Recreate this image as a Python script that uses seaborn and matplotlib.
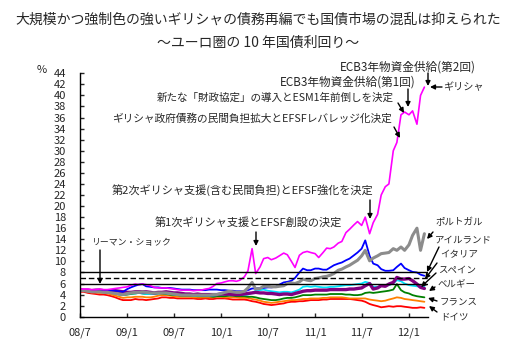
import matplotlib
matplotlib.use("Agg")
import matplotlib.pyplot as plt
import pandas as pd
import seaborn as sns

# semi-monthly readings, 2008/7/1 .. 2012/3/1 (89 points)
dates = pd.date_range("2008-07-01", "2012-03-01", freq="SMS")

greece = [5.0, 5.0, 5.0, 4.9, 4.9, 5.0, 4.9, 4.9, 5.0, 5.1, 5.2, 5.3,
          5.4, 5.7, 5.9, 5.8, 5.9, 5.8, 5.6, 5.3, 5.2, 5.2, 5.2, 5.1, 5.0, 4.9, 4.8, 4.8, 4.8, 4.7, 4.8, 4.8, 5.0, 5.1, 5.5, 6.0,
          6.1, 6.3, 6.5, 6.5, 6.4, 6.6, 7.2, 8.3, 12.3, 7.8, 9.0, 10.5, 10.7, 10.3, 10.6, 11.0, 11.5, 11.2, 10.0, 8.9, 11.1, 11.6, 11.8, 11.6,
          11.4, 10.7, 11.6, 12.4, 12.3, 12.6, 13.3, 13.6, 15.2, 15.8, 16.6, 17.2, 16.5, 18.0, 15.0, 17.0, 18.5, 22.0, 23.5, 24.0, 30.0, 31.5, 36.5, 37.0,
          36.5, 37.2, 34.8, 40.0, 41.5]
portugal = [4.8, 4.7, 4.6, 4.5, 4.5, 4.5, 4.4, 4.4, 4.3, 4.2, 4.1, 4.0,
            4.2, 4.3, 4.4, 4.4, 4.5, 4.4, 4.3, 4.3, 4.3, 4.3, 4.3, 4.2, 4.1, 4.0, 3.9, 3.9, 3.9, 3.9, 3.9, 3.9, 3.9, 3.9, 4.0, 4.0,
            4.2, 4.4, 4.6, 4.5, 4.4, 4.4, 4.6, 5.2, 6.2, 5.0, 5.1, 5.5, 5.5, 5.4, 5.4, 5.5, 5.6, 6.0, 6.1, 6.0, 6.3, 6.8, 6.6, 6.5,
            6.9, 7.0, 7.2, 7.3, 7.5, 7.8, 8.4, 8.6, 9.0, 9.3, 9.8, 10.2, 11.0, 12.0, 10.1, 10.6, 11.0, 11.4, 11.5, 11.6, 12.3, 12.0, 12.6, 12.0,
            13.0, 14.7, 16.0, 12.0, 15.0]
ireland = [4.8, 4.7, 4.6, 4.5, 4.6, 4.6, 4.6, 4.6, 4.7, 4.7, 4.6, 4.5,
           5.0, 5.3, 5.6, 5.8, 5.9, 5.5, 5.4, 5.3, 5.3, 5.2, 5.2, 5.2, 5.1, 5.0, 4.9, 4.9, 4.9, 4.8, 4.8, 4.8, 4.8, 4.9, 4.9, 4.9,
           4.8, 4.8, 4.7, 4.7, 4.6, 4.6, 4.6, 4.8, 5.1, 5.1, 5.2, 5.2, 5.3, 5.3, 5.4, 5.8, 6.2, 6.3, 6.5, 7.0, 8.0, 8.7, 8.4, 8.4,
           8.7, 8.7, 8.5, 8.5, 8.9, 9.3, 9.6, 9.8, 10.2, 10.5, 11.1, 11.6, 12.3, 13.8, 11.0, 9.6, 9.3, 8.6, 8.3, 8.3, 8.4, 9.0, 9.6, 8.8,
           8.4, 8.1, 8.0, 7.6, 7.4]
italy = [4.9, 4.8, 4.8, 4.7, 4.8, 4.8, 4.7, 4.7, 4.7, 4.7, 4.6, 4.5,
         4.4, 4.4, 4.5, 4.5, 4.5, 4.5, 4.4, 4.3, 4.4, 4.4, 4.5, 4.4, 4.3, 4.3, 4.2, 4.1, 4.1, 4.0, 4.1, 4.0, 4.0, 4.0, 4.0, 4.0,
         4.1, 4.1, 4.1, 4.0, 4.0, 4.0, 4.1, 4.2, 4.3, 4.4, 4.3, 4.3, 4.2, 4.2, 4.1, 4.0, 4.1, 4.1, 4.0, 4.2, 4.4, 4.6, 4.7, 4.7,
         4.8, 4.8, 4.8, 4.8, 4.9, 4.9, 4.9, 4.9, 4.9, 5.0, 5.0, 5.1, 5.2, 5.6, 6.0, 5.0, 5.2, 5.6, 5.5, 5.9, 6.2, 7.1, 6.8, 6.8,
         6.9, 6.5, 5.9, 5.3, 5.1]
spain = [4.8, 4.8, 4.6, 4.5, 4.6, 4.5, 4.4, 4.4, 4.3, 4.2, 4.0, 3.9,
         4.1, 4.2, 4.2, 4.3, 4.2, 4.1, 4.1, 4.1, 4.2, 4.3, 4.2, 4.1, 4.0, 4.0, 3.9, 3.9, 3.9, 3.8, 3.8, 3.8, 3.8, 3.8, 3.8, 3.9,
         4.0, 4.1, 4.0, 4.0, 3.9, 3.9, 3.9, 4.0, 4.3, 4.7, 4.8, 4.9, 4.7, 4.6, 4.5, 4.4, 4.5, 4.5, 4.4, 4.6, 4.9, 5.4, 5.5, 5.4,
         5.5, 5.4, 5.3, 5.3, 5.4, 5.4, 5.5, 5.6, 5.7, 5.7, 5.8, 5.9, 6.0, 6.3, 6.1, 5.4, 5.4, 5.6, 5.6, 5.7, 6.0, 6.6, 6.4, 6.0,
         5.7, 5.6, 5.5, 5.4, 5.5]
belgium = [4.8, 4.8, 4.6, 4.5, 4.6, 4.5, 4.5, 4.4, 4.3, 4.2, 4.0, 3.9,
           4.0, 4.1, 4.2, 4.3, 4.2, 4.1, 4.1, 4.1, 4.2, 4.2, 4.1, 4.0, 3.9, 3.9, 3.8, 3.8, 3.8, 3.8, 3.7, 3.7, 3.7, 3.7, 3.6, 3.7,
           3.7, 3.7, 3.8, 3.8, 3.7, 3.7, 3.7, 3.6, 3.6, 3.5, 3.3, 3.2, 3.1, 3.0, 3.0, 3.1, 3.3, 3.4, 3.4, 3.5, 3.7, 3.9, 3.9, 3.9,
           4.0, 4.0, 4.0, 4.0, 4.1, 4.1, 4.1, 4.1, 4.0, 4.0, 3.9, 3.9, 4.0, 4.3, 4.4, 4.3, 4.4, 4.5, 4.6, 4.7, 4.9, 5.9, 4.8, 4.4,
           4.2, 3.9, 3.7, 3.6, 3.5]
france = [4.7, 4.7, 4.5, 4.4, 4.4, 4.3, 4.3, 4.2, 4.0, 3.8, 3.6, 3.4,
          3.5, 3.5, 3.6, 3.6, 3.6, 3.5, 3.5, 3.6, 3.8, 3.9, 3.9, 3.8, 3.7, 3.6, 3.6, 3.6, 3.6, 3.5, 3.5, 3.5, 3.5, 3.5, 3.5, 3.6,
          3.6, 3.5, 3.5, 3.5, 3.5, 3.4, 3.4, 3.4, 3.2, 3.1, 2.9, 2.7, 2.6, 2.5, 2.6, 2.7, 2.8, 2.9, 3.0, 3.0, 3.1, 3.2, 3.2, 3.3,
          3.3, 3.3, 3.4, 3.4, 3.5, 3.5, 3.5, 3.5, 3.4, 3.3, 3.3, 3.3, 3.3, 3.3, 3.1, 3.0, 2.9, 2.8, 2.9, 3.1, 3.3, 3.5, 3.4, 3.2,
          3.1, 3.0, 2.9, 2.8, 2.7]
germany = [4.5, 4.5, 4.3, 4.2, 4.1, 4.0, 4.0, 3.9, 3.7, 3.5, 3.2, 3.0,
           3.0, 3.0, 3.2, 3.1, 3.1, 3.0, 3.1, 3.2, 3.3, 3.5, 3.5, 3.4, 3.4, 3.3, 3.3, 3.3, 3.3, 3.3, 3.2, 3.2, 3.3, 3.2, 3.2, 3.3,
           3.3, 3.3, 3.2, 3.1, 3.1, 3.1, 3.1, 3.0, 2.8, 2.7, 2.5, 2.3, 2.2, 2.1, 2.2, 2.3, 2.4, 2.6, 2.7, 2.7, 2.8, 2.8, 2.9, 3.0,
           3.0, 3.0, 3.1, 3.1, 3.2, 3.2, 3.2, 3.2, 3.2, 3.2, 3.1, 3.0, 2.9, 2.7, 2.3, 2.1, 1.9, 1.7, 1.8, 1.9, 1.8, 1.9, 1.9, 1.8,
           1.7, 1.6, 1.6, 1.7, 1.6]

tick_dates = ["2008-07-01", "2009-01-01", "2009-07-01", "2010-01-01",
              "2010-07-01", "2011-01-01", "2011-07-01", "2012-01-01"]
tick_labels = ["08/7", "09/1", "09/7", "10/1", "10/7", "11/1", "11/7", "12/1"]

df = pd.DataFrame({"date": dates, "ドイツ": germany, "フランス": france, "ベルギー": belgium,
                   "スペイン": spain, "イタリア": italy, "アイルランド": ireland,
                   "ポルトガル": portugal, "ギリシャ": greece})

sns.set_style("ticks")
plt.rcParams["font.family"] = ["Noto Sans CJK JP", "DejaVu Sans"]

W, H = 516, 359
fig = plt.figure(figsize=(W / 100, H / 100), dpi=100)
ax = fig.add_axes([80 / W, 1 - 316.7 / H, 348 / W, 243.4 / H])

styles = [("ドイツ", "#ff0000", 1.3), ("フランス", "#ff8000", 1.3), ("ベルギー", "#008000", 1.3),
          ("スペイン", "#00e5ff", 1.3), ("イタリア", "#800080", 2.4), ("アイルランド", "#0000ff", 1.3),
          ("ポルトガル", "#8c8c8c", 2.2), ("ギリシャ", "#ff00ff", 1.2)]
for name, color, lw in styles:
    sns.lineplot(data=df, x="date", y=name, color=color, lw=lw, ax=ax)

ax.axhline(8, color="black", lw=1, zorder=5)
ax.axhline(7, color="black", lw=1, ls=(0, (4, 2)), zorder=5)
ax.axhline(6, color="black", lw=1, zorder=5)

ax.set_xlim(pd.Timestamp("2008-07-01"), pd.Timestamp("2012-03-15"))
ax.set_ylim(0, 44)
ax.set_yticks(range(0, 45, 2))
ax.set_xticks(pd.to_datetime(tick_dates))
ax.set_xticklabels(tick_labels)
ax.set_xlabel("")
ax.set_ylabel("")
ax.tick_params(axis="y", direction="in", length=3, pad=10, labelsize=8, width=1)
ax.tick_params(axis="x", direction="in", length=3, pad=8, labelsize=8, width=1)
for side in ["top", "right"]:
    ax.spines[side].set_visible(False)
for side in ["left", "bottom"]:
    ax.spines[side].set_color("black")
    ax.spines[side].set_linewidth(1)


def fp(x, y):
    return (x / W, 1 - y / H)


fig.text(*fp(258, 20), "大規模かつ強制色の強いギリシャの債務再編でも国債市場の混乱は抑えられた",
         ha="center", va="center", fontsize=10)
fig.text(*fp(258, 43), "～ユーロ圏の 10 年国債利回り～", ha="center", va="center", fontsize=10)
fig.text(*fp(42, 70), "%", ha="center", va="center", fontsize=8)

notes = [
    ("リーマン・ショック", 91, 243, 6.4, (100, 250), (100, 284)),
    ("第1次ギリシャ支援とEFSF創設の決定", 155, 223, 8.0, (256, 232), (256, 246)),
    ("第2次ギリシャ支援(含む民間負担)とEFSF強化を決定", 112, 190, 8.0, (370, 200), (370, 219)),
    ("ギリシャ政府債務の民間負担拡大とEFSFレバレッジ化決定", 112, 118, 7.7, (394, 127), (400, 138)),
    ("新たな「財政協定」の導入とESM1年前倒しを決定", 157, 98, 7.6, (398, 103), (404, 113)),
    ("ECB3年物資金供給(第1回)", 280, 82, 8.4, (408, 89), (408, 107)),
    ("ECB3年物資金供給(第2回)", 340, 67, 8.4, (428, 73), (428, 86)),
    ("ギリシャ", 443, 87, 7.3, (442, 87), (430, 87)),
    ("ポルトガル", 435, 223, 6.8, (433, 232), (427, 239)),
    ("アイルランド", 435, 240, 6.8, (439, 247), (427, 272)),
    ("イタリア", 440, 255, 6.8, (437, 263), (425, 279)),
    ("スペイン", 438, 270, 6.8, (436, 273), (421, 287)),
    ("ベルギー", 438, 284, 6.8, (435, 287), (429, 291)),
    ("フランス", 440, 302, 6.8, (437, 301), (428, 298)),
    ("ドイツ", 440, 317, 6.8, (437, 312), (429, 306)),
]
for label, tx, ty, size, start, end in notes:
    fig.text(*fp(tx, ty), label, ha="left", va="center", fontsize=size)
    ax.annotate("", xy=fp(*end), xytext=fp(*start), xycoords="figure fraction",
                textcoords="figure fraction", annotation_clip=False,
                arrowprops=dict(arrowstyle="-|>", color="black", lw=1, mutation_scale=7,
                                shrinkA=0, shrinkB=0))

fig.savefig("out.png", dpi=100)
